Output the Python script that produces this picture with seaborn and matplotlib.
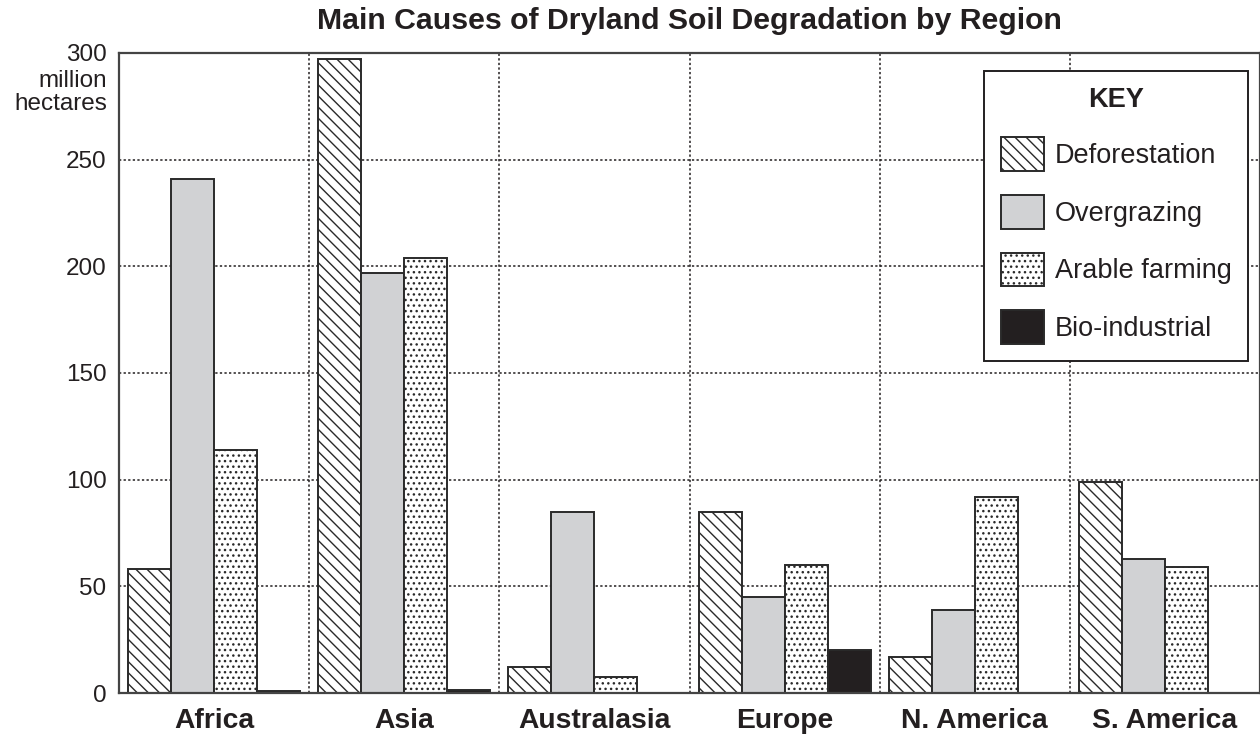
import numpy as np
import pandas as pd
import seaborn as sns
from matplotlib import pyplot as plt

sns.set_theme(style='white')
plt.rcParams['font.family'] = ['Liberation Sans', 'DejaVu Sans']
plt.rcParams['hatch.linewidth'] = 1.0

# data (million hectares)
regions = ['Africa', 'Asia', 'Australasia', 'Europe', 'N. America', 'S. America']
causes = ['Deforestation', 'Overgrazing', 'Arable farming', 'Bio-industrial']
deforestation = [58, 297, 12, 85, 17, 99]
overgrazing = [241, 197, 85, 45, 39, 63]
arable = [114, 204, 7.5, 60, 92, 59]
bio_industrial = [1, 1.5, 0, 20, 0, 0]
y_ticks = [0, 50, 100, 150, 200, 250, 300]

ink = '#231f20'
fills = ['white', '#d1d2d4', 'white', ink]
hatches = ['\\\\\\', '', '...', '']

df = pd.DataFrame({
    'Region': regions * 4,
    'Cause': sum([[c] * len(regions) for c in causes], []),
    'Value': deforestation + overgrazing + arable + bio_industrial,
})

fig = plt.figure(figsize=(12.6, 7.38), dpi=100)
ax = fig.add_axes([119 / 1260, 1 - 693 / 738, 1 - 119 / 1260, (693 - 53) / 738])

sns.barplot(data=df, x='Region', y='Value', hue='Cause', order=regions,
            hue_order=causes, palette=fills, width=0.905, errorbar=None,
            edgecolor='#2a2a2a', linewidth=1.4, saturation=1, legend=False, ax=ax)

for cont, h in zip(ax.containers, hatches):
    for bar in cont:
        bar.set_hatch(h)

ax.set_xlim(-0.5, 5.5)
ax.set_ylim(0, 300)
ax.set_yticks(y_ticks)
ax.set_xticks(np.arange(-0.5, 6, 1), minor=True)
ax.grid(axis='y', which='major', color=ink, linestyle=(0, (1.5, 1.5)), linewidth=1.1)
ax.grid(axis='x', which='minor', color=ink, linestyle=(0, (1.5, 1.5)), linewidth=1.1)
ax.set_axisbelow(True)

for s in ax.spines.values():
    s.set_color('#444444')
    s.set_linewidth(1.6)

ax.tick_params(axis='y', length=0, pad=9, labelsize=17.5, labelcolor=ink)
ax.tick_params(axis='x', which='both', length=0, pad=11, labelcolor=ink)
for lab in ax.get_xticklabels():
    lab.set_fontsize(20.3)
    lab.set_fontweight('bold')
ax.set_xlabel('')
ax.set_ylabel('')

ax.annotate('million\nhectares', xy=(0, 300), xycoords=('axes fraction', 'data'),
            xytext=(-8.6, -12), textcoords='offset points', ha='right', va='top',
            fontsize=17.5, linespacing=1.05, color=ink)

ax.set_title('Main Causes of Dryland Soil Degradation by Region', fontsize=21.8,
             fontweight='bold', color=ink, pad=17)

handles = [cont[2] for cont in ax.containers]
leg = ax.legend(handles, causes, title='KEY', loc='upper right',
                bbox_to_anchor=(0.9895, 0.9719), borderaxespad=0, fontsize=19.5,
                title_fontproperties={'weight': 'bold', 'size': 19.5},
                handlelength=1.6, handleheight=1.55, labelspacing=0.88,
                handletextpad=0.4, borderpad=0.6, fancybox=False, framealpha=1)
leg.get_frame().set_edgecolor(ink)
leg.get_frame().set_linewidth(1.4)
for t in leg.get_texts():
    t.set_color(ink)
leg.get_title().set_color(ink)

fig.savefig('out.png', dpi=100)
